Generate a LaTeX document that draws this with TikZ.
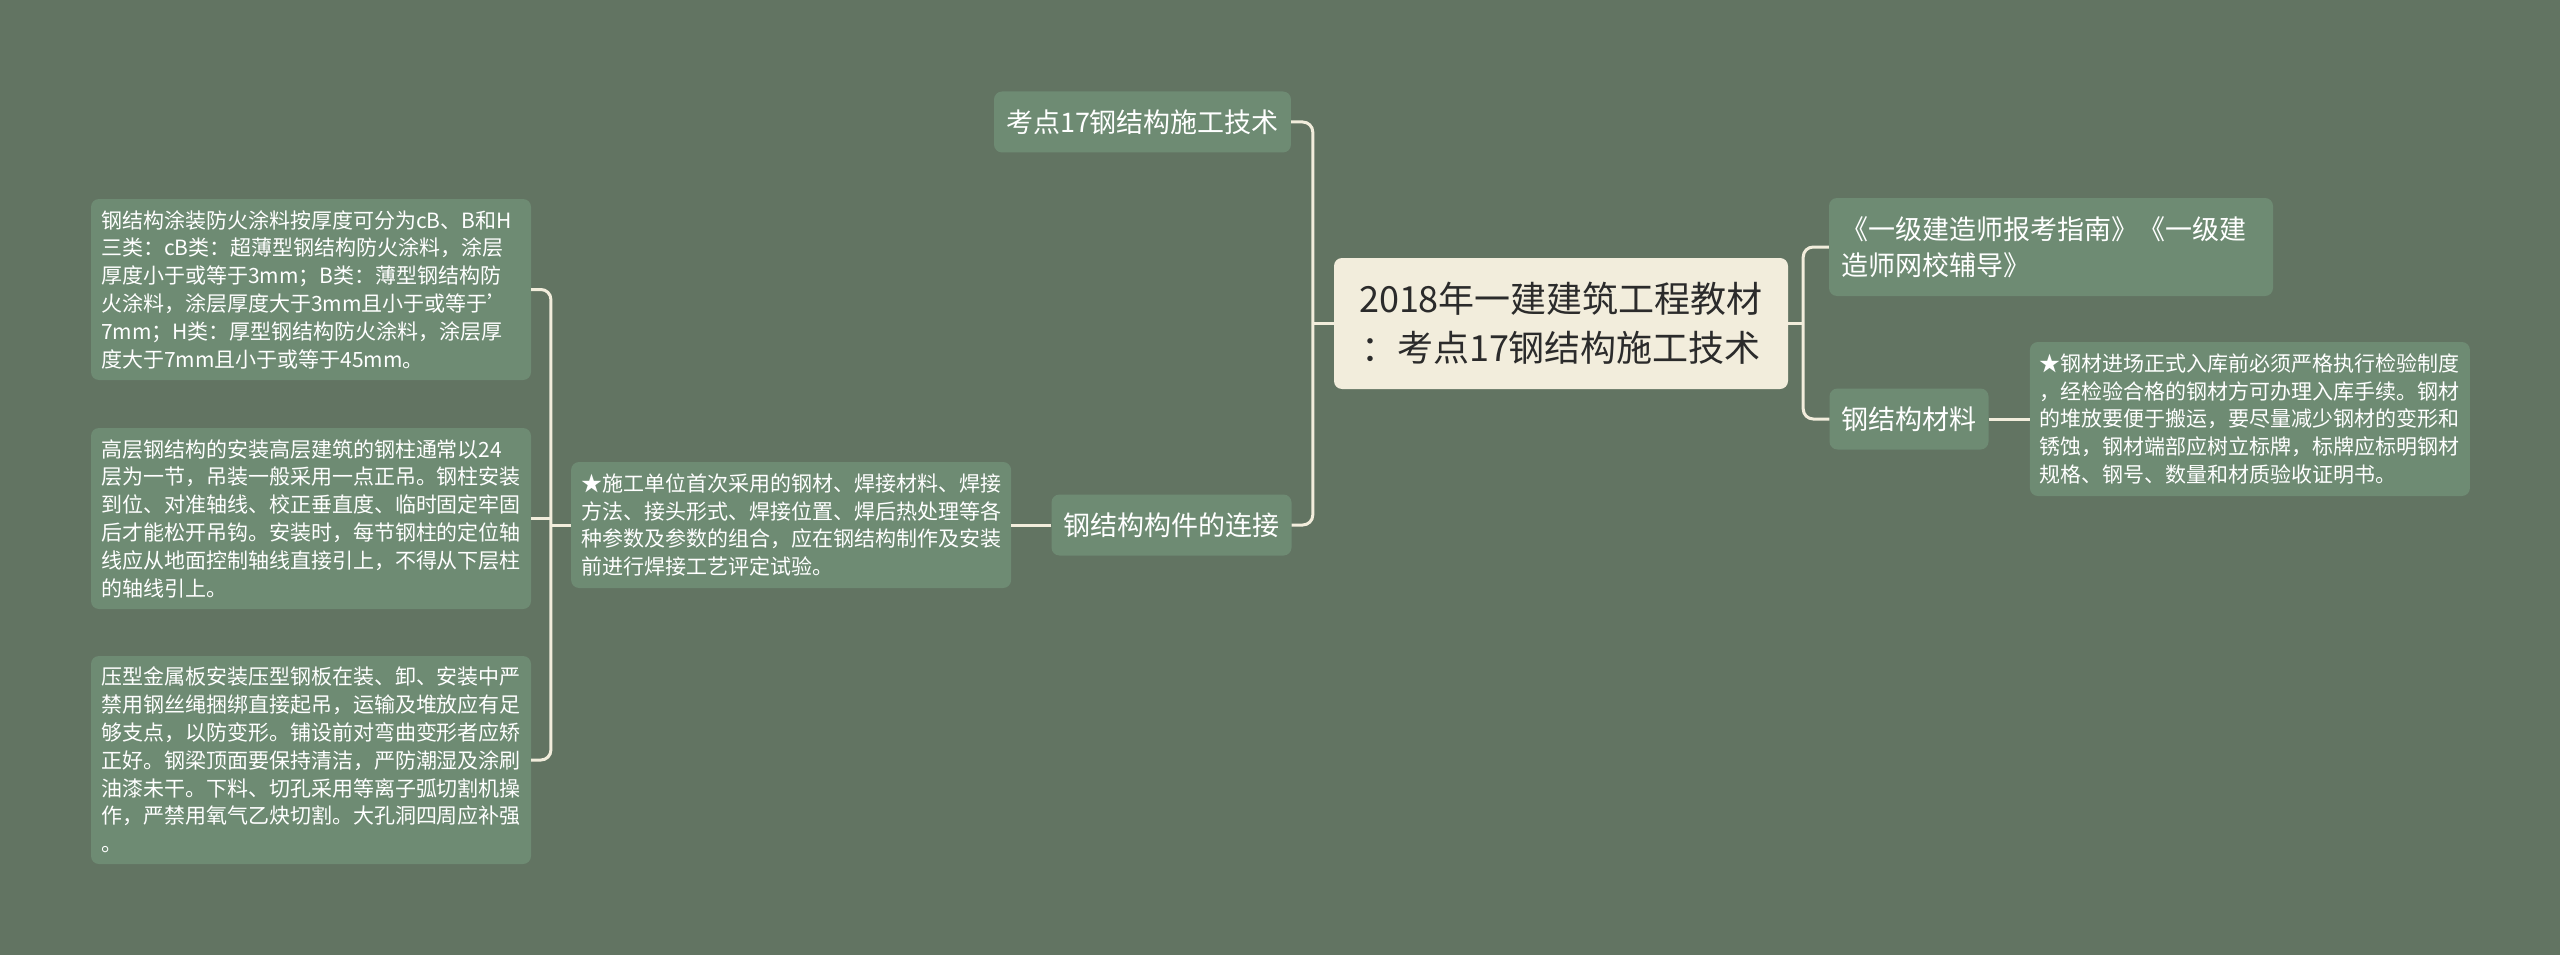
\documentclass[tikz,border=0pt]{standalone}
\usepackage{fontspec}
\setmainfont{Noto Sans CJK SC}
\usetikzlibrary{positioning}
\definecolor{bggreen}{HTML}{627462}
\definecolor{boxgreen}{HTML}{6E8B73}
\definecolor{cream}{HTML}{F2EDDC}
\definecolor{ink}{HTML}{2B2B2B}
\tikzset{
  x = 1pt, y = 1pt,
  central/.style = {rectangle,
                    rounded corners = 8pt,
                    fill = cream,
                    text = ink,
                    align = center,
                    font = \fontsize{36pt}{49pt}\selectfont,
                    minimum width = 454pt,
                    minimum height = 131pt,
                    inner sep = 0pt},
  topic/.style = {rectangle,
                  rounded corners = 8pt,
                  fill = boxgreen,
                  text = white,
                  align = center,
                  font = \fontsize{27pt}{36pt}\selectfont,
                  minimum height = 61pt,
                  inner sep = 12pt},
  note/.style = {rectangle,
                 rounded corners = 8pt,
                 fill = boxgreen,
                 text = white,
                 align = left,
                 font = \fontsize{21pt}{27.8pt}\selectfont,
                 text width = 420pt,
                 inner sep = 10pt},
  link/.style = {draw = cream,
                 line width = 3pt,
                 rounded corners = 10pt}
}
\begin{document}
\begin{tikzpicture}

\fill[bggreen] (0,0) rectangle (2560,-955);

\node[central](root) at (1561,-323.5){2018年一建建筑工程教材\\：考点17钢结构施工技术};

\node[topic](topic) at (1142.5,-122){考点17钢结构施工技术};

\node[topic](joint) at (1171.5,-525){钢结构构件的连接};

\node[note, minimum height = 126pt](weld)[left = 40pt of joint]{★施工单位首次采用的钢材、焊接材料、焊接\\方法、接头形式、焊接位置、焊后热处理等各\\种参数及参数的组合，应在钢结构制作及安装\\前进行焊接工艺评定试验。};

\node[note, minimum height = 181pt](fire) at (311,-289.5){钢结构涂装防火涂料按厚度可分为cB、B和H\\三类：cB类：超薄型钢结构防火涂料，涂层\\厚度小于或等于3mm；B类：薄型钢结构防\\火涂料，涂层厚度大于3mm且小于或等于’\\7mm；H类：厚型钢结构防火涂料，涂层厚\\度大于7mm且小于或等于45mm。};

\node[note, minimum height = 181pt](highrise) at (311,-518.5){高层钢结构的安装高层建筑的钢柱通常以24\\层为一节，吊装一般采用一点正吊。钢柱安装\\到位、对准轴线、校正垂直度、临时固定牢固\\后才能松开吊钩。安装时，每节钢柱的定位轴\\线应从地面控制轴线直接引上，不得从下层柱\\的轴线引上。};

\node[note, minimum height = 208pt](deck) at (311,-760){压型金属板安装压型钢板在装、卸、安装中严\\禁用钢丝绳捆绑直接起吊，运输及堆放应有足\\够支点，以防变形。铺设前对弯曲变形者应矫\\正好。钢梁顶面要保持清洁，严防潮湿及涂刷\\油漆未干。下料、切孔采用等离子弧切割机操\\作，严禁用氧气乙炔切割。大孔洞四周应补强\\。};

\node[topic, align = left, text width = 420pt, inner sep = 12pt, minimum height = 98pt](guide) at (2051,-247){《一级建造师报考指南》《一级建\\造师网校辅导》};

\node[topic](material) at (1909,-419){钢结构材料};

\node[note, minimum height = 154pt](store)[right = 41pt of material]{★钢材进场正式入库前必须严格执行检验制度\\，经检验合格的钢材方可办理入库手续。钢材\\的堆放要便于搬运，要尽量减少钢材的变形和\\锈蚀，钢材端部应树立标牌，标牌应标明钢材\\规格、钢号、数量和材质验收证明书。};

% left of the centre
\draw[link] (root.west) -- ++(-21,0) coordinate (root-l);
\draw[link] (topic.east) -| (root-l) |- (joint.east);

% right of the centre
\draw[link] (root.east) -- ++(15,0) coordinate (root-r);
\draw[link] (guide.west) -| (root-r) |- (material.west);
\draw[link] (material.east) -- (store.west);

% notes on the joints
\draw[link] (joint.west) -- (weld.east);
\draw[link] (weld.west) -- ++(-20,0) coordinate (weld-l);
\draw[link] (fire.east) -| (weld-l) |- (deck.east);
\draw[link] (highrise.east) -- (highrise.east -| weld-l);

\end{tikzpicture}
\end{document}
